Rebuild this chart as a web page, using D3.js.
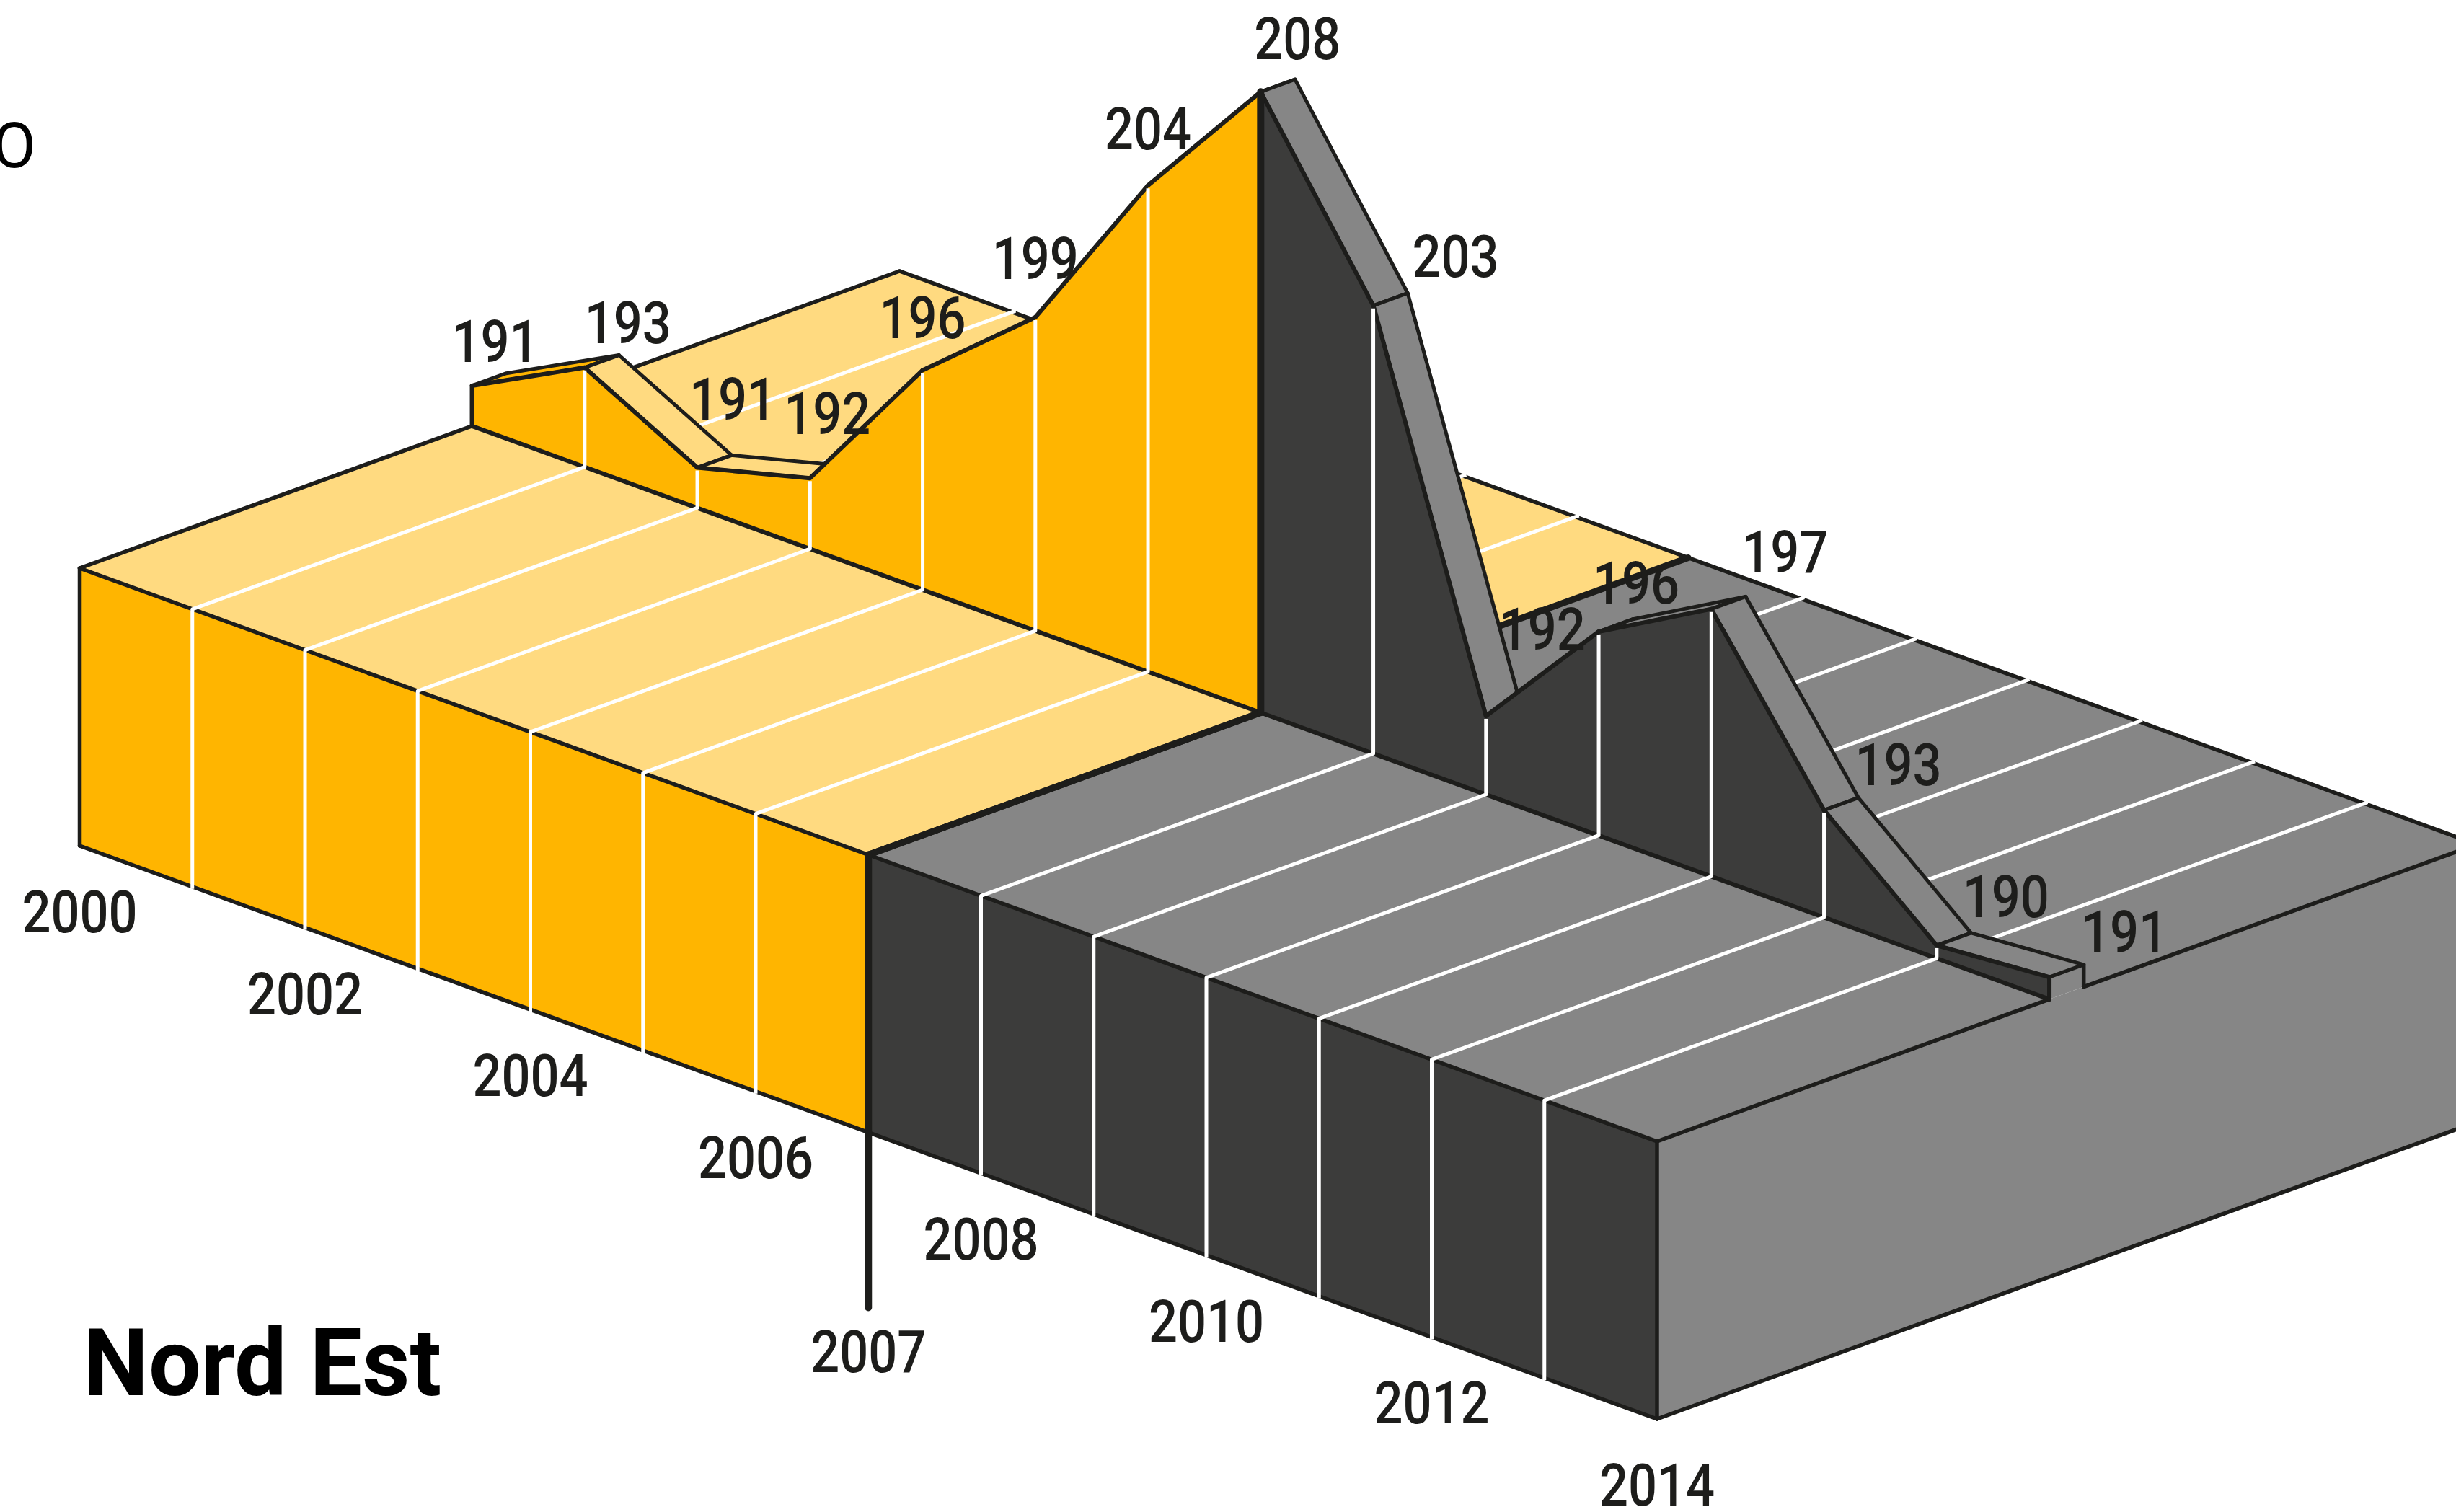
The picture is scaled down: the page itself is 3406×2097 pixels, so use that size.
<!DOCTYPE html>
<html><head><meta charset="utf-8">
<script src="https://cdn.jsdelivr.net/npm/d3@7/dist/d3.min.js"></script>
<style>html,body{margin:0;padding:0;background:#fff;overflow:hidden}svg{display:block}</style>
</head><body>
<script>
// --- data ---
const years  = [2000,2001,2002,2003,2004,2005,2006,2007,2008,2009,2010,2011,2012,2013,2014];
const values = [191.0,192.73,191.0,191.89,196.25,199.0,204.06,208.0,202.94,192.12,195.79,197.65,192.96,190.2,190.47];
const valueLabels = ["191","193","191","192","196","199","204","208","203","192","196","197","193","190","191"];
const tickYears = [2000,2002,2004,2006,2008,2010,2012,2014];
const splitYear = 2007;
const title = "Nord Est";

// --- layout of the labels relative to their point ---
const labelNudgeX = [32,60,49,24,0,0,0,51,114,78,52,102,103,96,104];
const labelNudgeY = [-33,-34,-67,-61,-44,-53,-50,-45,-40,-92,-39,-51,-35,-39,-34];

const W=3406,H=2097;
const col={orange:"#FFB500",light:"#FFDA80",grey:"#868686",dark:"#3C3C3B",ink:"#1D1D1B",white:"#FFFFFF"};
const svg=d3.select("body").append("svg").attr("width",W).attr("height",H).attr("viewBox",`0 0 ${W} ${H}`);
svg.append("rect").attr("width",W).attr("height",H).attr("fill","#fff");

// oblique projection: year along the front edge, depth to the back, height straight up
const yearX=d3.scaleLinear().domain([2000,2014]).range([110.5,2298]);
const yearY=d3.scaleLinear().domain([2000,2014]).range([788,1583]);
const depthX=d3.scaleLinear().domain([0,1]).range([0,1137]);
const depthY=d3.scaleLinear().domain([0,1]).range([0,-412]);
const heightS=d3.scaleLinear().domain([189.82,208]).range([0,861]);
const blockH=385, wallD=0.4785, ribbonD=0.5204;
const P=(yr,d,h=0)=>[yearX(yr)+depthX(d),yearY(yr)+depthY(d)-h];
const line=d3.line();
const val=new Map(years.map((y,i)=>[y,values[i]]));
const wallTop=(yr,d=wallD)=>P(yr,d,heightS(val.get(yr)));

const poly=(g,pts,fill,stroke,sw)=>g.append("path").attr("d",line(pts)+"Z").attr("fill",fill)
  .attr("stroke",stroke||"none").attr("stroke-width",sw||0).attr("stroke-linejoin","round");
const seg=(g,pts,stroke,sw,cap)=>g.append("path").attr("d",line(pts)).attr("fill","none")
  .attr("stroke",stroke).attr("stroke-width",sw).attr("stroke-linejoin","round").attr("stroke-linecap",cap||"round");

const y0=years[0], y1=years[years.length-1];
const gPlate=svg.append("g"), gRib=svg.append("g"), gWall=svg.append("g"), gFront=svg.append("g"), gText=svg.append("g");
const edge=5.5, whiteW=5;

// plate
poly(gPlate,[P(y0,0),P(splitYear,0),P(splitYear,1),P(y0,1)],col.light);
poly(gPlate,[P(splitYear,0),P(y1,0),P(y1,1),P(splitYear,1)],col.grey);
// right-hand face
poly(gPlate,[P(y1,0),P(y1,0,-blockH),P(y1,1,-blockH),P(y1,1)],col.grey);
// front faces
poly(gPlate,[P(y0,0),P(splitYear,0),P(splitYear,0,-blockH),P(y0,0,-blockH)],col.orange);
poly(gPlate,[P(splitYear,0),P(y1,0),P(y1,0,-blockH),P(splitYear,0,-blockH)],col.dark);

// black outlines of the block
seg(gPlate,[P(y0,1),P(y0,0)],col.ink,edge);
seg(gPlate,[P(y0,1),P(y1,1)],col.ink,edge);
seg(gPlate,[P(y1,ribbonD),P(y1,1)],col.ink,edge);
seg(gPlate,[P(y1,0),P(y1,wallD)],col.ink,edge);
seg(gPlate,[P(y1,0,-blockH),P(y1,1,-blockH)],col.ink,edge);
seg(gPlate,[P(splitYear,0),P(splitYear,1)],col.ink,9);

// white year lines on the plate, behind the wall
years.filter(y=>y!==y0&&y!==y1&&y!==splitYear).forEach(y=>seg(gPlate,[P(y,wallD),P(y,1.004)],col.white,whiteW,"butt"));

// ribbon on top of the wall
d3.pairs(years).forEach(([a,b])=>{
  const left=a<splitYear;
  const rising=val.get(b)-val.get(a)>1;
  const fill=(rising&&left)?col.orange:(left?col.light:col.grey);
  poly(gRib,[wallTop(a),wallTop(a,ribbonD),wallTop(b,ribbonD),wallTop(b)],fill,col.ink,5);
});
// rear drop at the last year
seg(gRib,[wallTop(y1,ribbonD),P(y1,ribbonD)],col.ink,edge);

// walls
d3.pairs(years).forEach(([a,b])=>{
  const fill=a<splitYear?col.orange:col.dark;
  poly(gWall,[P(a,wallD),wallTop(a),wallTop(b),P(b,wallD)],fill);
  seg(gWall,[wallTop(a),wallTop(b)],col.ink,6);
});
seg(gWall,[P(y0,wallD),P(y1,wallD)],col.ink,6);
seg(gWall,[P(y0,wallD),wallTop(y0)],col.ink,6);
seg(gWall,[P(y1,wallD),wallTop(y1)],col.ink,6);

// front outlines
seg(gFront,[P(y0,0),P(y0,0,-blockH)],col.ink,edge);
seg(gFront,[P(y0,0),P(y1,0)],col.ink,edge);
seg(gFront,[P(y0,0,-blockH),P(y1,0,-blockH)],col.ink,edge);
seg(gFront,[P(y1,0),P(y1,0,-blockH)],col.ink,edge);

// white verticals and their continuation on the plate
years.filter(y=>y!==y0&&y!==y1&&y!==splitYear).forEach(y=>{
  const t=wallTop(y);
  seg(gFront,[P(y,0,-blockH-3),P(y,0),P(y,wallD),[t[0],t[1]+4]],col.white,whiteW,"butt");
});

// the 2007 divider
seg(gFront,[P(splitYear,0),P(splitYear,wallD)],col.ink,9);
seg(gFront,[P(splitYear,wallD),wallTop(splitYear)],col.ink,10);
const splitBottom=P(splitYear,0,-blockH);
seg(gFront,[P(splitYear,0),[splitBottom[0],splitBottom[1]+243]],col.ink,10);

// text
const font="Roboto, 'Open Sans', sans-serif";
const digits=(x,y,t)=>gText.append("text").attr("transform",`translate(${x},${y}) scale(0.87,1)`)
  .attr("text-anchor","middle").attr("font-family",font).attr("font-weight",500).attr("font-size",81).attr("fill",col.ink).text(t);

years.forEach((y,i)=>{
  const t=wallTop(y);
  digits(t[0]+labelNudgeX[i],t[1]+labelNudgeY[i],valueLabels[i]);
});
tickYears.forEach(y=>{
  const b=P(y,0,-blockH);
  digits(b[0],b[1]+120,String(y));
});
digits(splitBottom[0],splitBottom[1]+332,String(splitYear));

gText.append("text").attr("transform","translate(115,1935)")
  .attr("font-family",font).attr("font-weight",700).attr("font-size",129).attr("fill","#000").text(title);
gText.append("text").attr("x",50).attr("y",232).attr("text-anchor","end")
  .attr("font-family",font).attr("font-size",88).attr("fill","#000").text("O");
</script>
</body></html>
